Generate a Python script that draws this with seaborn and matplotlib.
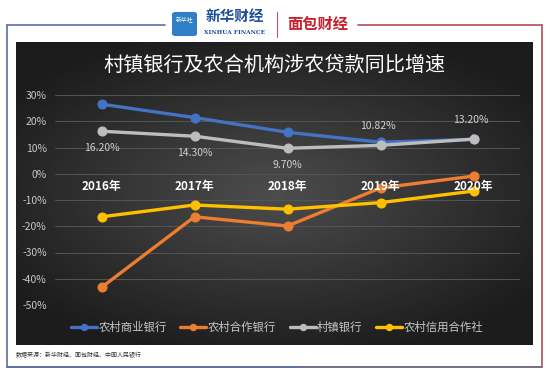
import numpy as np
import pandas as pd
import matplotlib
matplotlib.use("Agg")
import matplotlib.pyplot as plt
from matplotlib.patches import FancyBboxPatch
from matplotlib.lines import Line2D
import seaborn as sns

# --------------------------------------------------------------------
# Data
# --------------------------------------------------------------------
years = ["2016年", "2017年", "2018年", "2019年", "2020年"]
series_names = ["农村商业银行", "农村合作银行", "村镇银行", "农村信用合作社"]
rural_commercial = [26.5, 21.4, 15.8, 12.0, 13.1]
rural_cooperative = [-43.3, -16.4, -19.9, -5.4, -0.9]
village_bank = [16.2, 14.3, 9.7, 10.82, 13.2]
credit_coop = [-16.4, -11.9, -13.5, -11.0, -6.6]
village_labels = ["16.20%", "14.30%", "9.70%", "10.82%", "13.20%"]
colors = ["#4472C4", "#ED7D31", "#BDBDBD", "#FFC000"]
yticks = [30, 20, 10, 0, -10, -20, -30, -40, -50]

title = "村镇银行及农合机构涉农贷款同比增速"
source = "数据来源：新华财经、面包财经、中国人民银行"

values = [rural_commercial, rural_cooperative, village_bank, credit_coop]
df = pd.DataFrame({
    "x": np.tile(np.arange(len(years)), len(series_names)),
    "value": np.concatenate(values),
    "series": np.repeat(series_names, len(years)),
})

sns.set_theme(style="white")
plt.rcParams["font.family"] = ["Noto Sans CJK SC", "DejaVu Sans"]

W, H = 550, 374
fig = plt.figure(figsize=(W / 100, H / 100), dpi=100)
fig.patch.set_facecolor("white")

def fx(px):
    return px / W

def fy(py):
    return 1 - py / H

# --------------------------------------------------------------------
# Frame + dark panel
# --------------------------------------------------------------------
blue_line = "#5a6ea6"
red_line = "#b44a5a"
fig.add_artist(Line2D([fx(7), fx(7)], [fy(25), fy(367)], color=blue_line, lw=1.2))
fig.add_artist(Line2D([fx(7), fx(165)], [fy(25), fy(25)], color=blue_line, lw=1.2))
fig.add_artist(Line2D([fx(358), fx(542)], [fy(25), fy(25)], color=red_line, lw=1.2))
fig.add_artist(Line2D([fx(542), fx(542)], [fy(25), fy(367)], color=red_line, lw=1.2))
fig.add_artist(Line2D([fx(7), fx(300)], [fy(367), fy(367)], color=blue_line, lw=1.4))
fig.add_artist(Line2D([fx(300), fx(542)], [fy(367), fy(367)], color="#7a6a8a", lw=1.4))

bg = fig.add_axes([fx(16), fy(345), fx(533 - 16), (345 - 42) / H])
gx, gy = np.meshgrid(np.linspace(-1, 1, 300), np.linspace(-1, 1, 200))
r = np.sqrt((gx * 0.9) ** 2 + (gy * 1.0) ** 2)
shade = np.clip(0.30 - 0.17 * r, 0.11, 0.30)
bg.imshow(shade, cmap="gray", vmin=0, vmax=1, aspect="auto", extent=[0, 1, 0, 1])
bg.set_axis_off()

fig.text(fx(275), fy(65), title, color="white", fontsize=14.5,
         ha="center", va="center")

# Logos
logo = FancyBboxPatch((fx(172), fy(36)), fx(25), 24 / H,
                      boxstyle="round,pad=0,rounding_size=0.006",
                      transform=fig.transFigure, facecolor="#2f7fc8", edgecolor="none")
fig.add_artist(logo)
fig.text(fx(184.5), fy(20), "新华社", color="white", fontsize=4.2, ha="center", va="center")
fig.text(fx(235), fy(16), "新华财经", color="#1d4f9a", fontsize=10.5, ha="center",
         va="center", style="italic", fontweight="bold")
fig.text(fx(235), fy(32), "XINHUA FINANCE", color="#1d4f9a", fontsize=4.2,
         ha="center", va="center", family="DejaVu Serif", fontweight="bold")
fig.add_artist(Line2D([fx(277), fx(277)], [fy(12), fy(37)], color="#c05060", lw=0.8))
fig.text(fx(318), fy(24), "面包财经", color="#c8202c", fontsize=11, ha="center",
         va="center", fontweight="bold")

fig.text(fx(16), fy(355), source, color="#333333", fontsize=4.3, ha="left", va="center")

# --------------------------------------------------------------------
# Chart
# --------------------------------------------------------------------
ax = fig.add_axes([fx(55), fy(305), fx(520 - 55), (305 - 95) / H])
ax.patch.set_alpha(0)

for name, col in zip(series_names, colors):
    sub = df[df["series"] == name]
    sns.lineplot(data=sub, x="x", y="value", ax=ax, color=col, linewidth=2.4,
                 marker="o", markersize=6.5, markeredgecolor=col, label=name)

ax.set_xlim(-0.5, len(years) - 0.5)
ax.set_ylim(-50, 30)
ax.set_yticks(yticks)
ax.set_yticklabels([f"{v}%" for v in yticks], color="#c8c8c8", fontsize=7.5)
ax.set_xticks(np.arange(len(years)))
ax.set_xticklabels([])
for s in ax.spines.values():
    s.set_visible(False)
ax.tick_params(axis="both", length=0)
ax.tick_params(axis="y", pad=6)
ax.yaxis.grid(True, color="#555555", linewidth=0.7)
ax.set_axisbelow(True)
ax.set_xlabel("")
ax.set_ylabel("")

# category labels sit just under the 0% line, above the lines
for i, yr in enumerate(years):
    ax.annotate(yr, (i, 0), xytext=(0, -9.5), textcoords="offset points",
                ha="center", va="center", color="white", fontsize=8.5,
                fontweight="bold", zorder=10)

# data labels for 村镇银行
for i, (v, lab) in enumerate(zip(village_bank, village_labels)):
    if i < 3:
        ax.annotate(lab, (i, v), xytext=(0, -12), textcoords="offset points",
                    ha="center", va="center", color="#d0d0d0", fontsize=7.5)
    else:
        ax.annotate(lab, (i, v), xytext=(-2, 14), textcoords="offset points",
                    ha="center", va="center", color="#d0d0d0", fontsize=7.5,
                    arrowprops=dict(arrowstyle="-", color="#d0d0d0", lw=0.7,
                                    shrinkA=5, shrinkB=3))

leg = ax.legend(loc="center", ncol=4, frameon=False, fontsize=8.2,
                handlelength=2.3, columnspacing=1.2, handletextpad=0.1,
                markerscale=0.7)
leg.set_bbox_to_anchor((fx(277), fy(327)), transform=fig.transFigure)
for t in leg.get_texts():
    t.set_color("#c8c8c8")

fig.savefig("out.png", dpi=100, facecolor="white")
